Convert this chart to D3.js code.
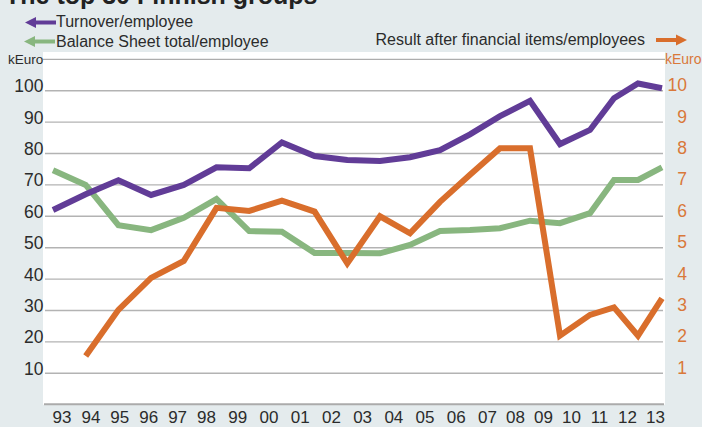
<!DOCTYPE html>
<html>
<head>
<meta charset="utf-8">
<script src="https://cdn.jsdelivr.net/npm/d3@7"></script>
<style>
  body { margin: 0; }
  svg { display: block; font-family: "Liberation Sans", Arial, Helvetica, sans-serif; }
</style>
</head>
<body>
<svg width="702" height="427"></svg>
<script>
const years = [1993, 1994, 1995, 1996, 1997, 1998, 1999, 2000, 2001, 2002, 2003,
               2004, 2005, 2006, 2007, 2008, 2009, 2010, 2011, 2012, 2013]
const yearLabels = ["93", "94", "95", "96", "97", "98", "99", "00", "01", "02", "03",
                    "04", "05", "06", "07", "08", "09", "10", "11", "12", "13"]

// kEuro, left axis
const turnover = [62, 67, 71.5, 66.8, 70, 75.6, 75.3, 83.5, 79.2, 77.9, 77.6,
                  78.8, 81.1, 86.1, 91.9, 96.8, 83, 87.5, 97.6, 102.3, 100.8]
const balance = [74.7, 70, 57.2, 55.6, 59.5, 65.5, 55.3, 55.1, 48.3, 48.3, 48.2,
                 50.9, 55.3, 55.6, 56.2, 58.6, 57.8, 61, 71.6, 71.6, 75.6]

// kEuro, right axis (starts 1994)
const resultYears = years.slice(1)
const result = [1.55, 3.02, 4.04, 4.58, 6.27, 6.17, 6.5, 6.15, 4.5, 6.0,
                5.46, 6.46, 7.32, 8.17, 8.17, 2.2, 2.86, 3.1, 2.2, 3.39]

const leftTicks = [10, 20, 30, 40, 50, 60, 70, 80, 90, 100]
const rightTicks = [1, 2, 3, 4, 5, 6, 7, 8, 9, 10]

const purple = "#613c97"
const green = "#88b67f"
const orange = "#d96e2c"
const orangeText = "#d9783a"
const textDark = "#2b2b2b"

const svg = d3.select("svg")

const plot = {left: 43, right: 665, top: 52, bottom: 404.7}

// the original drawing is not evenly spaced, so use a piecewise scale
const x = d3.scaleLinear()
    .domain([1993, 2003, 2010, 2013])
    .range([53, 380, 590, 662])

const xLabel = d3.scaleLinear()
    .domain([1993, 1998, 2007, 2013])
    .range([61.5, 206, 487, 655])

const yL = d3.scaleLinear().domain([0, 110]).range([404.7, 59.3])
const yR = d3.scaleLinear().domain([0, 11]).range([404.7, 59.3])

// background
svg.append("rect")
    .attr("width", 702)
    .attr("height", 427)
    .attr("fill", "#e4ebed")

svg.append("rect")
    .attr("x", plot.left)
    .attr("y", plot.top)
    .attr("width", plot.right - plot.left)
    .attr("height", plot.bottom - plot.top)
    .attr("fill", "#ffffff")

// title (cut off at top, as in the original)
svg.append("text")
    .attr("x", 5)
    .attr("y", 4)
    .attr("font-size", "25px")
    .attr("font-weight", "bold")
    .attr("fill", "#222")
    .text("The top 30 Finnish groups")

// gridlines
svg.append("g")
    .selectAll("line")
    .data(leftTicks)
    .enter()
    .append("line")
    .attr("x1", 45)
    .attr("x2", 663)
    .attr("y1", d => yL(d))
    .attr("y2", d => yL(d))
    .attr("stroke", "#b3b3b3")
    .attr("stroke-width", 1.4)

svg.append("line")
    .attr("x1", plot.left)
    .attr("x2", plot.right)
    .attr("y1", yL(110))
    .attr("y2", yL(110))
    .attr("stroke", "#999")
    .attr("stroke-width", 1)

svg.append("line")
    .attr("x1", 44)
    .attr("x2", 664)
    .attr("y1", yL(0) - 0.5)
    .attr("y2", yL(0) - 0.5)
    .attr("stroke", "#ababab")
    .attr("stroke-width", 2)

// left axis
const leftAxis = svg.append("g")
    .attr("transform", "translate(43.5,0)")
    .call(d3.axisLeft(yL).tickValues(leftTicks).tickSize(0).tickPadding(0))
leftAxis.select(".domain").remove()
leftAxis.selectAll("text")
    .attr("dy", "1px")
    .attr("font-size", "17.5px")
    .attr("font-family", "'Liberation Sans', Arial, sans-serif")
    .attr("fill", textDark)

// right axis
const rightAxis = svg.append("g")
    .attr("transform", "translate(687,0)")
    .call(d3.axisLeft(yR).tickValues(rightTicks).tickSize(0).tickPadding(0))
rightAxis.select(".domain").remove()
rightAxis.selectAll("text")
    .attr("dy", "0px")
    .attr("font-size", "17.5px")
    .attr("font-family", "'Liberation Sans', Arial, sans-serif")
    .attr("fill", orangeText)

// x axis labels
const xAxis = svg.append("g")
    .attr("transform", "translate(0,423)")
    .call(d3.axisBottom(xLabel).tickValues(years).tickSize(0).tickPadding(0)
        .tickFormat((d, i) => yearLabels[i]))
xAxis.select(".domain").remove()
xAxis.selectAll("text")
    .attr("y", 0)
    .attr("dy", "0px")
    .attr("font-size", "17px")
    .attr("font-family", "'Liberation Sans', Arial, sans-serif")
    .attr("fill", textDark)

// unit labels
svg.append("text")
    .attr("x", 8)
    .attr("y", 64)
    .attr("font-size", "13.5px")
    .attr("fill", textDark)
    .text("kEuro")

svg.append("text")
    .attr("x", 665)
    .attr("y", 64)
    .attr("font-size", "14px")
    .attr("fill", orangeText)
    .text("kEuro")

// lines
const lineL = d3.line()
    .x((d, i) => x(years[i]))
    .y(d => yL(d))

const lineR = d3.line()
    .x((d, i) => x(resultYears[i]))
    .y(d => yR(d))

svg.append("path")
    .attr("d", lineL(balance))
    .attr("fill", "none")
    .attr("stroke", green)
    .attr("stroke-width", 6)
    .attr("stroke-linejoin", "miter")

svg.append("path")
    .attr("d", lineL(turnover))
    .attr("fill", "none")
    .attr("stroke", purple)
    .attr("stroke-width", 6)
    .attr("stroke-linejoin", "miter")

svg.append("path")
    .attr("d", lineR(result))
    .attr("fill", "none")
    .attr("stroke", orange)
    .attr("stroke-width", 6)
    .attr("stroke-linejoin", "miter")

// legend
function arrow(tipX, y, dir, color) {
    // dir -1 points left, 1 points right
    const g = svg.append("g")
    const headLen = 11
    const shaftLen = 20
    const baseX = tipX - dir * headLen
    g.append("polygon")
        .attr("points", [[tipX, y], [baseX, y - 5.5], [baseX, y + 5.5]].join(" "))
        .attr("fill", color)
    g.append("line")
        .attr("x1", baseX + dir)
        .attr("x2", baseX - dir * shaftLen)
        .attr("y1", y)
        .attr("y2", y)
        .attr("stroke", color)
        .attr("stroke-width", 4)
}

arrow(25, 22.5, -1, purple)
arrow(24, 41.5, -1, green)
arrow(687, 40, 1, orange)

svg.append("text")
    .attr("x", 56)
    .attr("y", 27)
    .attr("font-size", "16px")
    .attr("fill", textDark)
    .text("Turnover/employee")

svg.append("text")
    .attr("x", 56)
    .attr("y", 46.5)
    .attr("font-size", "16px")
    .attr("fill", textDark)
    .text("Balance Sheet total/employee")

svg.append("text")
    .attr("x", 645)
    .attr("y", 45)
    .attr("text-anchor", "end")
    .attr("font-size", "16px")
    .attr("fill", textDark)
    .text("Result after financial items/employees")
</script>
</body>
</html>
